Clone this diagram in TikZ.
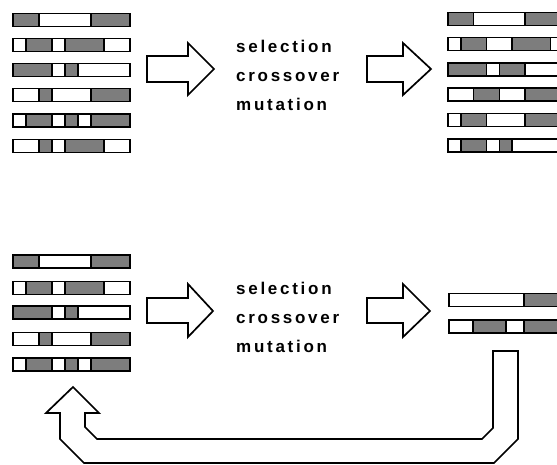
\documentclass[tikz,border=0pt]{standalone}
\usepackage{fontspec}
\setmainfont{Liberation Sans}
\newfontfamily\lblfont[LetterSpace=16]{Liberation Sans}
\definecolor{seggray}{RGB}{125,125,125}
\tikzset{
  seg/.style={draw=black, line width=1.4pt},
  blockarrow/.style={draw=black, line width=1.7pt, fill=white, line join=miter},
  oplabel/.style={anchor=base west, inner sep=0pt, font=\lblfont\bfseries\fontsize{17}{20}\selectfont}
}
\newcommand{\chromrow}[4]{%
  \foreach \c/\a/\b in {#4} {
    \path[seg, fill=\c] ({#1+#2*\a}, {#3-6.5}) rectangle ({#1+#2*\b}, {#3+6.5});
  }%
}
\begin{document}
\begin{tikzpicture}[x=1pt,y=-1pt]
\useasboundingbox (0,0) rectangle (557,464);
\clip (0,0) rectangle (557,464);
% ---------- top-left population
\chromrow{13}{13}{20}{seggray/0/2, white/2/6, seggray/6/9}
\chromrow{13}{13}{45}{white/0/1, seggray/1/3, white/3/4, seggray/4/7, white/7/9}
\chromrow{13}{13}{70}{seggray/0/3, white/3/4, seggray/4/5, white/5/9}
\chromrow{13}{13}{95}{white/0/2, seggray/2/3, white/3/6, seggray/6/9}
\chromrow{13}{13}{120.5}{white/0/1, seggray/1/3, white/3/4, seggray/4/5, white/5/6, seggray/6/9}
\chromrow{13}{13}{146}{white/0/2, seggray/2/3, white/3/4, seggray/4/7, white/7/9}
% ---------- top-right population
\chromrow{448}{12.8}{19}{seggray/0/2, white/2/6, seggray/6/9}
\chromrow{448}{12.8}{44}{white/0/1, seggray/1/3, white/3/5, seggray/5/8, white/8/9}
\chromrow{448}{12.8}{69.5}{seggray/0/3, white/3/4, seggray/4/6, white/6/9}
\chromrow{448}{12.8}{94.5}{white/0/2, seggray/2/4, white/4/6, seggray/6/9}
\chromrow{448}{12.8}{120}{white/0/1, seggray/1/3, white/3/6, seggray/6/9}
\chromrow{448}{12.8}{145.5}{white/0/1, seggray/1/3, white/3/4, seggray/4/5, white/5/9}
% ---------- bottom-left population
\chromrow{13}{13}{261.5}{seggray/0/2, white/2/6, seggray/6/9}
\chromrow{13}{13}{288}{white/0/1, seggray/1/3, white/3/4, seggray/4/7, white/7/9}
\chromrow{13}{13}{312.5}{seggray/0/3, white/3/4, seggray/4/5, white/5/9}
\chromrow{13}{13}{339}{white/0/2, seggray/2/3, white/3/6, seggray/6/9}
\chromrow{13}{13}{364.5}{white/0/1, seggray/1/3, white/3/4, seggray/4/5, white/5/6, seggray/6/9}
% ---------- bottom-right selected
\chromrow{0}{1}{300}{white/449/524, seggray/524/600}
\chromrow{0}{1}{326.5}{white/449/473, seggray/473/506, white/506/524, seggray/524/600}
% ---------- block arrows
\path[blockarrow] (147,56) -- (188,56) -- (188,43) -- (214,69) -- (188,95) -- (188,82) -- (147,82) -- cycle;
\path[blockarrow] (367,56) -- (403,56) -- (403,43) -- (431,69) -- (403,95) -- (403,82) -- (367,82) -- cycle;
\path[blockarrow] (147,298) -- (188,298) -- (188,284) -- (213,311) -- (188,337) -- (188,323) -- (147,323) -- cycle;
\path[blockarrow] (367,298) -- (403,298) -- (403,284) -- (430,311) -- (403,337) -- (403,323) -- (367,323) -- cycle;
% ---------- loop arrow
\path[blockarrow] (493,351) -- (518,351) -- (518,439) -- (494,463) -- (84,463) -- (60,439) -- (60,413) -- (46,413) -- (73,387) -- (99,413) -- (85,413) -- (85,427) -- (97,439) -- (482,439) -- (493,428) -- cycle;
% ---------- labels
\node[oplabel] (s1) at (236,52) {selection};
\node[oplabel] (c1) at (236,81) {crossover};
\node[oplabel] (m1) at (236,110) {mutation};
\node[oplabel] (s2) at (236,294) {selection};
\node[oplabel] (c2) at (236,323) {crossover};
\node[oplabel] (m2) at (236,352) {mutation};
\end{tikzpicture}
\end{document}
